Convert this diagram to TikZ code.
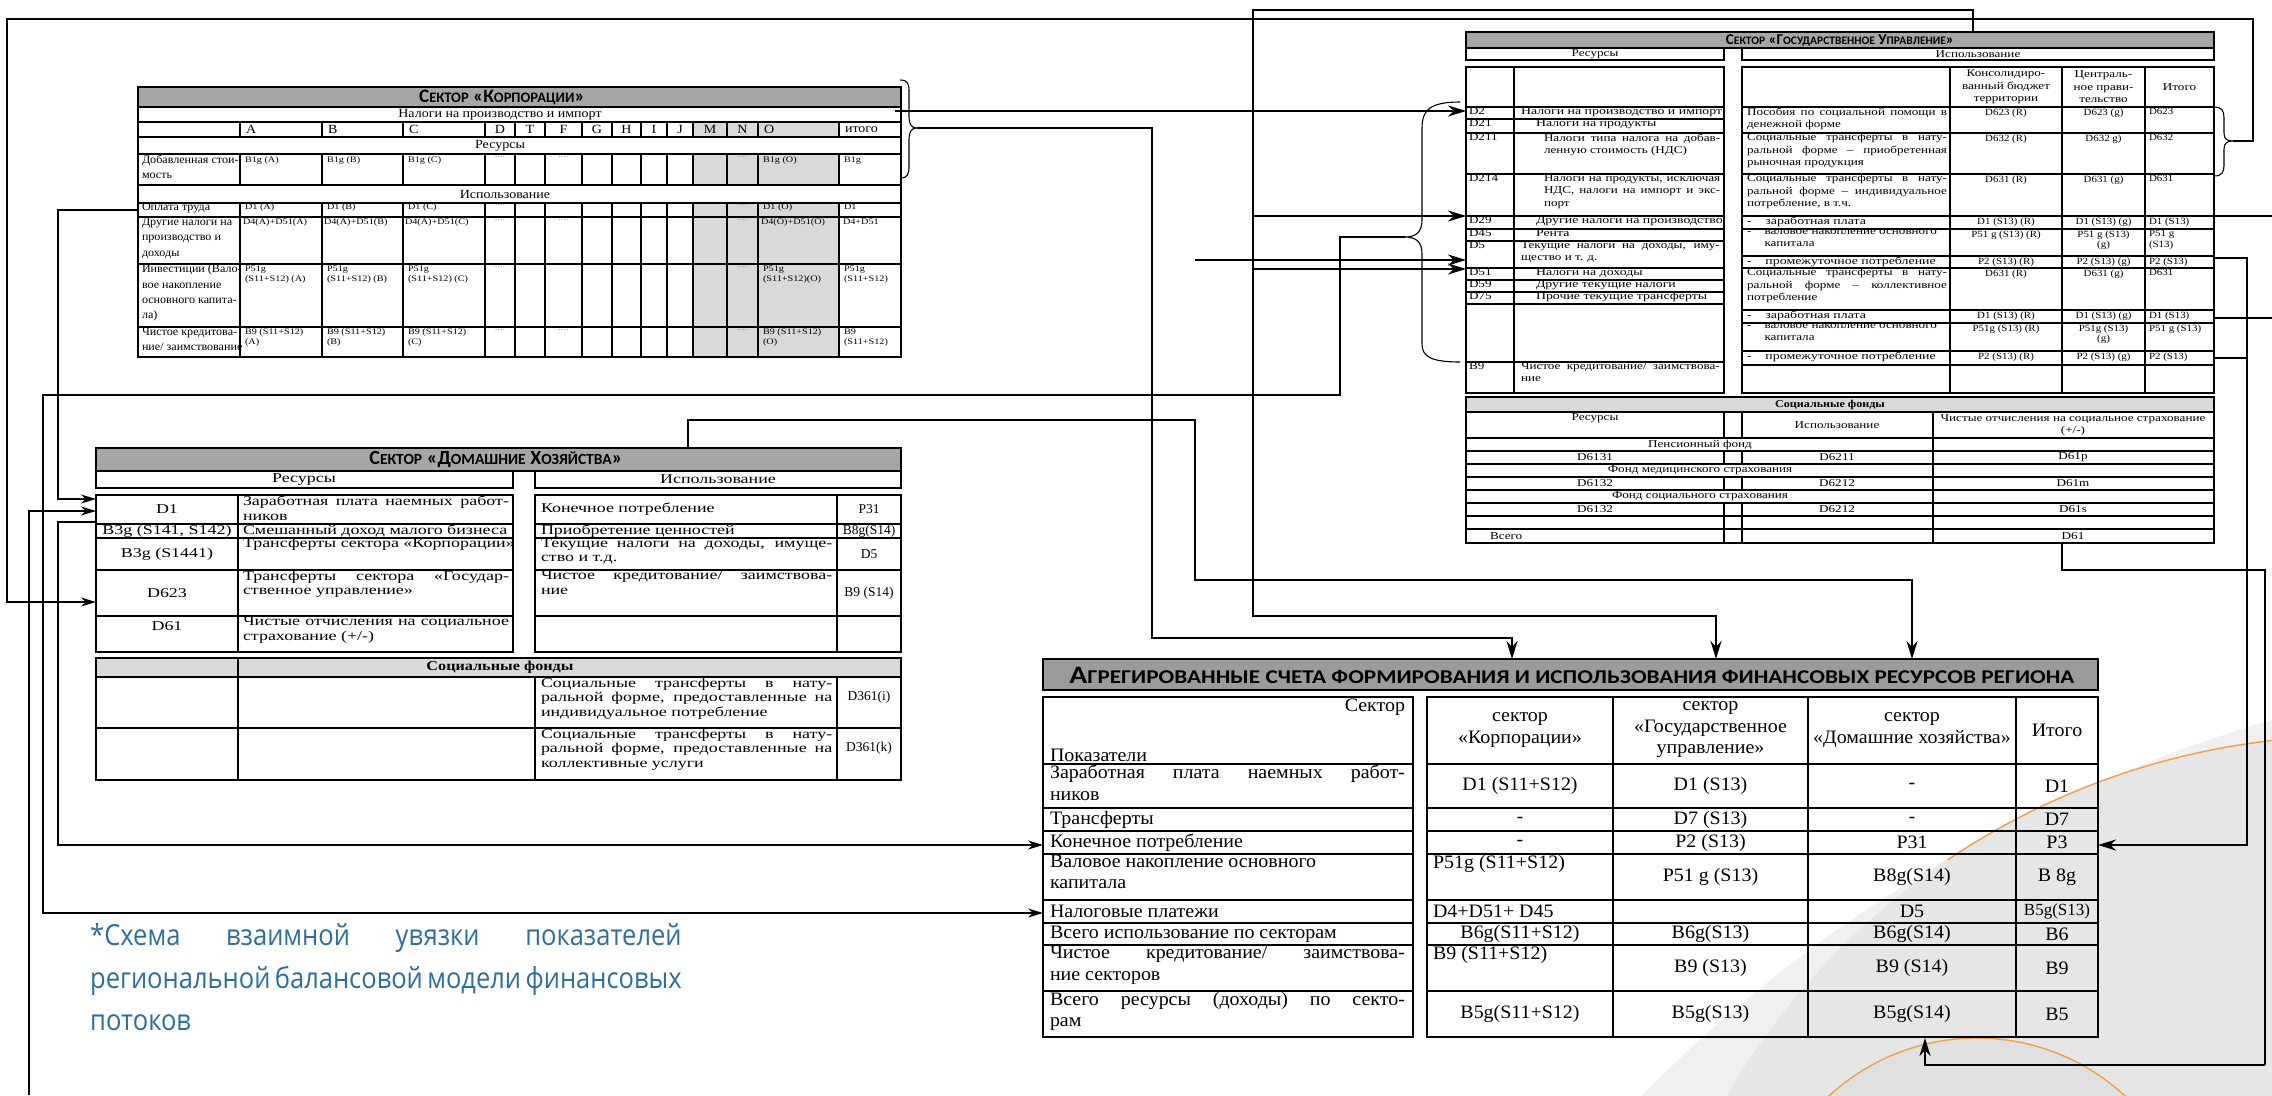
\documentclass[tikz,border=0pt]{standalone}
\usepackage{fontspec}
\setmainfont{Liberation Serif}
\newfontfamily\hfont{Carlito}
\newfontfamily\capfont{Open Sans}
\usetikzlibrary{arrows.meta}
\definecolor{hdr}{RGB}{166,166,166}
\definecolor{lgr}{RGB}{217,217,217}
\definecolor{agh}{RGB}{155,155,155}
\definecolor{capblue}{RGB}{45,110,160}
\definecolor{bgA}{RGB}{240,240,240}
\definecolor{bgB}{RGB}{230,230,230}
\definecolor{bgC}{RGB}{224,224,224}
\definecolor{orng}{RGB}{240,160,70}
\definecolor{dotc}{RGB}{140,140,140}
\newcounter{nn}
\newcommand\T[4][]{\stepcounter{nn}\node[cell,#1] (t\arabic{nn}) at (#2,#3) {#4};}
\newcommand\J[2]{\makebox[#1pt][s]{#2}}
\newcommand\SCx[2]{#1{\fontsize{\scs}{\scs}\selectfont #2}}
\newcommand\dd{\textcolor{dotc}{....}}
\tikzset{
  cell/.style={inner sep=0pt,outer sep=0pt,anchor=north west,align=left},
  ce/.style={anchor=center,align=center},
  cn/.style={anchor=north,align=center},
  cw/.style={anchor=west},
  tl/.style={line width=1.3pt},
  tla/.style={line width=1.8pt},
  fC/.style={font=\fontsize{11.5}{15.3}\selectfont,xscale=1.05},
  fCl/.style={font=\fontsize{12.5}{14}\selectfont,xscale=1.12},
  fCs/.style={font=\fontsize{8.5}{9.5}\selectfont,xscale=1.2},
  fG/.style={font=\fontsize{10.5}{12.5}\selectfont,xscale=1.25},
  fGw/.style={font=\fontsize{10.5}{12.5}\selectfont,xscale=1.32},
  fGs/.style={font=\fontsize{9.5}{10.5}\selectfont,xscale=1.15},
  fH/.style={font=\fontsize{13.5}{14.5}\selectfont,xscale=1.33},
  fHc/.style={font=\fontsize{13.5}{14.5}\selectfont},
  fA/.style={font=\fontsize{19}{21.5}\selectfont,xscale=1.05},
  fAs/.style={font=\fontsize{17}{19}\selectfont},
  thk/.style={line width=2.6pt},
  thn/.style={line width=1.2pt},
  arT/.style={-{Stealth[length=18pt,width=11pt]}},
  arN/.style={-{Stealth[length=15pt,width=9pt]}},
  brc/.style={line width=1.1pt},
  capt/.style={inner sep=0pt,anchor=base west,text=capblue,font=\capfont\fontsize{29}{32}\selectfont,xscale=0.88},
}
\begin{document}
\begin{tikzpicture}[x=1pt,y=-1pt]
\useasboundingbox (0,0) rectangle (2272,1095);
\fill[white] (0,0) rectangle (2272,1095);
% ---------- background decoration
\begin{scope}
\clip (0,0) rectangle (2272,1095);
\fill[bgA] (2681,2124) circle[radius=1462];
\fill[bgB] (2353,1461) circle[radius=725];
\fill[bgC] (1977,1256) circle[radius=218];
\draw[orng,line width=1.4pt] (1977,1256) ++(222:218) arc[start angle=222,end angle=318,radius=218];
\draw[orng,line width=1.4pt] (2353,1461) ++(236:725) arc[start angle=236,end angle=266,radius=725];
\end{scope}

% ================= CORPORATIONS
\fill[hdr] (138,87) rectangle (901,107);
\fill[lgr] (693,122) rectangle (839,137);
\fill[lgr] (693,154) rectangle (839,185);
\fill[lgr] (693,203) rectangle (839,357);
\draw[tl] (138,87) rectangle (901,357);
\foreach \y in {107,122,137,154,185,203,217,264,327} \draw[tl] (138,\y) -- (901,\y);
\foreach \x in {240,322,403,485,515,545,582,612,641,667,693,727,758,839} {
  \draw[tl] (\x,122) -- (\x,137);
  \draw[tl] (\x,154) -- (\x,185);
  \draw[tl] (\x,203) -- (\x,357);
}
\node[inner sep=0pt] (corpH) at (502,97.5) {\hfont\bfseries\def\scs{14.5}\fontsize{19}{20}\selectfont \SCx{С}{ЕКТОР} «\SCx{К}{ОРПОРАЦИИ}»};
\T[fCl,ce]{500}{114.5}{Налоги на производство и импорт}
\T[fCl,cw]{246}{129.5}{A}
\T[fCl,cw]{328}{129.5}{B}
\T[fCl,cw]{409}{129.5}{C}
\T[fCl,ce]{500}{129.5}{D}
\T[fCl,ce]{530}{129.5}{T}
\T[fCl,ce]{563.5}{129.5}{F}
\T[fCl,ce]{597}{129.5}{G}
\T[fCl,ce]{626.5}{129.5}{H}
\T[fCl,ce]{654}{129.5}{I}
\T[fCl,ce]{680}{129.5}{J}
\T[fCl,ce]{710}{129.5}{M}
\T[fCl,ce]{742.5}{129.5}{N}
\T[fCl,cw]{764}{129.5}{O}
\T[fCl,cw]{845}{130}{итого}
\T[fCl,ce]{500}{145.5}{Ресурсы}
\T[fCl,ce]{505}{194}{Использование}
\T[fC]{142}{155}{Добавленная стои-\\мость}
\T[fC]{142}{203}{Оплата труда}
\T[fC]{142}{218}{Другие налоги на\\производство и\\доходы}
\T[fC]{142}{265}{Инвестиции (Вало-\\вое накопление\\основного капита-\\ла)}
\T[fC]{142}{328}{Чистое кредитова-\\ние/ заимствование}
% data
\T[fCs]{245}{157}{B1g (A)}
\T[fCs]{327}{157}{B1g (B)}
\T[fCs]{408}{157}{B1g (C)}
\T[fCs,cn]{500}{157}{\dd}
\T[fCs,cn]{563.5}{157}{\dd}
\T[fCs,cn]{742.5}{157}{\dd}
\T[fCs]{763}{157}{B1g (O)}
\T[fCs]{844}{157}{B1g}
\T[fCs]{245}{204}{D1 (A)}
\T[fCs]{327}{204}{D1 (B)}
\T[fCs]{408}{204}{D1 (C)}
\T[fCs,cn]{500}{205}{\dd}
\T[fCs,cn]{742.5}{205}{\dd}
\T[fCs]{763}{204}{D1 (O)}
\T[fCs]{844}{204}{D1}
\T[fCs]{243}{219}{D4(A)+D51(A)}
\T[fCs]{324}{219}{D4(A)+D51(B)}
\T[fCs]{405}{219}{D4(A)+D51(C)}
\T[fCs,cn]{500}{220}{\dd}
\T[fCs,cn]{563.5}{220}{\dd}
\T[fCs,cn]{742.5}{220}{\dd}
\T[fCs]{761}{219}{D4(O)+D51(O)}
\T[fCs]{843}{219}{D4+D51}
\T[fCs]{245}{266}{P51g\\(S11+S12) (A)}
\T[fCs]{327}{266}{P51g\\(S11+S12) (B)}
\T[fCs]{408}{266}{P51g\\(S11+S12) (C)}
\T[fCs,cn]{500}{267}{\dd}
\T[fCs,cn]{742.5}{267}{\dd}
\T[fCs]{763}{266}{P51g\\(S11+S12)(O)}
\T[fCs]{844}{266}{P51g\\(S11+S12)}
\T[fCs]{245}{329}{B9 (S11+S12)\\(A)}
\T[fCs]{327}{329}{B9 (S11+S12)\\(B)}
\T[fCs]{408}{329}{B9 (S11+S12)\\(C)}
\T[fCs,cn]{500}{330}{\dd}
\T[fCs,cn]{563.5}{330}{\dd}
\T[fCs,cn]{742.5}{330}{\dd}
\T[fCs]{763}{329}{B9 (S11+S12)\\(O)}
\T[fCs]{844}{329}{B9\\(S11+S12)}
% brace right of corporations
\draw[brc] (900,80) .. controls (908,80) and (909,84) .. (909,92) -- (909,116) .. controls (909,124) and (911,128) .. (917,128) .. controls (911,128) and (909,132) .. (909,140) -- (909,166) .. controls (909,174) and (908,178) .. (900,178);

% ================= GOVERNMENT
\fill[hdr] (1466,32) rectangle (2214,48);
\draw[tl] (1466,32) rectangle (2214,48);
\node[inner sep=0pt] (govH) at (1840,40.5) {\hfont\bfseries\def\scs{11.5}\fontsize{15}{16}\selectfont \SCx{С}{ЕКТОР} «\SCx{Г}{ОСУДАРСТВЕННОЕ} \SCx{У}{ПРАВЛЕНИЕ}»};
\draw[tl] (1466,48) rectangle (1724,60);
\draw[tl] (1742,48) rectangle (2214,60);
\T[fG,ce]{1595}{54}{Ресурсы}
\T[fG,ce]{1978}{54}{Использование}
\draw[tl] (1466,67) rectangle (1724,393);
\draw[tl] (1514,67) -- (1514,393);
\foreach \y in {107,119,133,174,216,229,241,268,280,292,304,362} \draw[tl] (1466,\y) -- (1724,\y);
\draw[tl] (1742,67) rectangle (2214,393);
\foreach \y in {107,133,174,216,229,256,268,310,323,351,365} \draw[tl] (1742,\y) -- (2214,\y);
\foreach \x in {1950,2062,2145} \draw[tl] (\x,67) -- (\x,393);
% left codes and texts
\T[fG]{1469}{107.5}{D2}   \T[fGw]{1521}{107.5}{Налоги на производство и импорт}
\T[fG]{1469}{119.5}{D21}  \T[fGw]{1536}{119.5}{Налоги на продукты}
\T[fG]{1469}{133.5}{D211} \T[fG]{1544}{133.5}{\J{141}{Налоги типа налога на добав-}\\ленную стоимость (НДС)}
\T[fG]{1469}{174.5}{D214} \T[fG]{1544}{174.5}{\J{141}{Налоги на продукты, исключая}\\\J{141}{НДС, налоги на импорт и экс-}\\порт}
\T[fG]{1469}{216.5}{D29}  \T[fGw]{1536}{216.5}{Другие налоги на производство}
\T[fG]{1469}{229.5}{D45}  \T[fGw]{1536}{229.5}{Рента}
\T[fG]{1469}{241.5}{D5}   \T[fG]{1521}{241.5}{\J{159}{Текущие налоги на доходы, иму-}\\щество и т. д.}
\T[fG]{1469}{268.5}{D51}  \T[fGw]{1536}{268.5}{Налоги на доходы}
\T[fG]{1469}{280.5}{D59}  \T[fGw]{1536}{280.5}{Другие текущие налоги}
\T[fG]{1469}{292.5}{D75}  \T[fGw]{1536}{292.5}{Прочие текущие трансферты}
\T[fG]{1469}{362.5}{B9}   \T[fG]{1521}{362.5}{\J{159}{Чистое кредитование/ заимствова-}\\ние}
% right header
\T[fG,ce]{2006}{87}{Консолидиро-\\ванный бюджет\\территории}
\T[fG,ce]{2103.5}{87}{Централь-\\ное прави-\\тельство}
\T[fG,ce]{2179.5}{87}{Итого}
% right labels
\T[fG]{1747}{107.5}{\J{160}{Пособия по социальной помощи в}\\денежной форме}
\T[fG]{1747}{133.5}{\J{160}{Социальные трансферты в нату-}\\\J{160}{ральной форме – приобретенная}\\рыночная продукция}
\T[fG]{1747}{174.5}{\J{160}{Социальные трансферты в нату-}\\\J{160}{ральной форме – индивидуальное}\\потребление, в т.ч.}
\T[fGw]{1747}{216.5}{-\quad заработная плата}
\T[fG]{1747}{229.5}{-\quad валовое накопление основного\\\phantom{-\quad }капитала}
\T[fGw]{1747}{256.5}{-\quad промежуточное потребление}
\T[fG]{1747}{268.5}{\J{160}{Социальные трансферты в нату-}\\\J{160}{ральной форме – коллективное}\\потребление}
\T[fGw]{1747}{310.5}{-\quad заработная плата}
\T[fG]{1747}{323.5}{-\quad валовое накопление основного\\\phantom{-\quad }капитала}
\T[fGw]{1747}{351.5}{-\quad промежуточное потребление}
% right values
\T[fGs,cn]{2006}{108.5}{D623 (R)}      \T[fGs,cn]{2103.5}{108.5}{D623 (g)}      \T[fGs]{2149}{108.5}{D623}
\T[fGs,cn]{2006}{134.5}{D632 (R)}      \T[fGs,cn]{2103.5}{134.5}{D632 g)}       \T[fGs]{2149}{134.5}{D632}
\T[fGs,cn]{2006}{175.5}{D631 (R)}      \T[fGs,cn]{2103.5}{175.5}{D631 (g)}      \T[fGs]{2149}{175.5}{D631}
\T[fGs,cn]{2006}{217.5}{D1 (S13) (R)}  \T[fGs,cn]{2103.5}{217.5}{D1 (S13) (g)}  \T[fGs]{2149}{217.5}{D1 (S13)}
\T[fGs,cn]{2006}{230.5}{P51 g (S13) (R)} \T[fGs,cn]{2103.5}{230.5}{P51 g (S13)\\(g)} \T[fGs]{2149}{230.5}{P51 g\\(S13)}
\T[fGs,cn]{2006}{257.5}{P2 (S13) (R)}  \T[fGs,cn]{2103.5}{257.5}{P2 (S13) (g)}  \T[fGs]{2149}{257.5}{P2 (S13)}
\T[fGs,cn]{2006}{269.5}{D631 (R)}      \T[fGs,cn]{2103.5}{269.5}{D631 (g)}      \T[fGs]{2149}{269.5}{D631}
\T[fGs,cn]{2006}{311.5}{D1 (S13) (R)}  \T[fGs,cn]{2103.5}{311.5}{D1 (S13) (g)}  \T[fGs]{2149}{311.5}{D1 (S13)}
\T[fGs,cn]{2006}{324.5}{P51g (S13) (R)} \T[fGs,cn]{2103.5}{324.5}{P51g (S13)\\(g)} \T[fGs]{2149}{324.5}{P51 g (S13)}
\T[fGs,cn]{2006}{352.5}{P2 (S13) (R)}  \T[fGs,cn]{2103.5}{352.5}{P2 (S13) (g)}  \T[fGs]{2149}{352.5}{P2 (S13)}
% braces of government
\draw[brc] (2214,107) .. controls (2222,107) and (2224,111) .. (2224,118) -- (2224,133) .. controls (2224,139) and (2227,141) .. (2233,141) .. controls (2227,141) and (2224,143) .. (2224,149) -- (2224,165) .. controls (2224,172) and (2222,176) .. (2214,176);
\draw[brc] (1460,102) .. controls (1430,102) and (1422,110) .. (1422,128) -- (1422,220) .. controls (1422,232) and (1416,237) .. (1405,237) .. controls (1416,237) and (1422,242) .. (1422,254) -- (1422,344) .. controls (1422,356) and (1430,362) .. (1460,362);
% social funds (government)
\fill[lgr] (1466,397) rectangle (2214,412);
\draw[tl] (1466,397) rectangle (2214,543);
\foreach \y in {412,438,451,464,477,490,503,516,529} \draw[tl] (1466,\y) -- (2214,\y);
\draw[tl] (1933,412) -- (1933,543);
\foreach \x in {1724,1742} {\draw[tl] (\x,412) -- (\x,438); \draw[tl] (\x,451) -- (\x,464); \draw[tl] (\x,477) -- (\x,490); \draw[tl] (\x,503) -- (\x,543);}
\T[ce,font=\bfseries\fontsize{10.5}{12}\selectfont,xscale=1.15]{1830}{404.5}{Социальные фонды}
\T[fG,cn]{1595}{414}{Ресурсы}
\T[fG,ce]{1837}{425}{Использование}
\T[fG,ce]{2073}{425}{Чистые отчисления на социальное страхование\\(+/-)}
\T[fG,ce]{1700}{444.5}{Пенсионный фонд}
\T[fG,ce]{1595}{457.5}{D6131} \T[fG,ce]{1837}{457.5}{D6211} \T[fG,ce]{2073}{457.5}{D61p}
\T[fG,ce]{1700}{470.5}{Фонд медицинского страхования}
\T[fG,ce]{1595}{483.5}{D6132} \T[fG,ce]{1837}{483.5}{D6212} \T[fG,ce]{2073}{483.5}{D61m}
\T[fG,ce]{1700}{496.5}{Фонд социального страхования}
\T[fG,ce]{1595}{509.5}{D6132} \T[fG,ce]{1837}{509.5}{D6212} \T[fG,ce]{2073}{509.5}{D61s}
\T[fG,cw]{1490}{536}{Всего} \T[fG,ce]{2073}{536}{D61}

% ================= HOUSEHOLDS
\fill[hdr] (96,448) rectangle (901,471);
\draw[tl] (96,448) rectangle (901,471);
\node[inner sep=0pt] (hhH) at (496,459.5) {\hfont\bfseries\def\scs{15.5}\fontsize{20}{21}\selectfont \SCx{С}{ЕКТОР} «\SCx{Д}{ОМАШНИЕ} \SCx{Х}{ОЗЯЙСТВА}»};
\draw[tl] (96,471) rectangle (513,488);
\draw[tl] (535,471) rectangle (901,488);
\T[fH,ce]{304}{479.5}{Ресурсы}
\T[fH,ce]{718}{479.5}{Использование}
\draw[tl] (96,495) rectangle (513,652);
\draw[tl] (238,495) -- (238,652);
\draw[tl] (535,495) rectangle (901,652);
\draw[tl] (837,495) -- (837,652);
\foreach \y in {524,538,570,616} {\draw[tl] (96,\y) -- (513,\y); \draw[tl] (535,\y) -- (901,\y);}
\T[fH,ce]{167}{509.5}{D1}
\T[fH,ce]{167}{531}{B3g (S141, S142)}
\T[fH,ce]{167}{554}{B3g (S1441)}
\T[fH,ce]{167}{593}{D623}
\T[fH,ce]{167}{626}{D61}
\T[fH]{243}{496}{\J{200}{Заработная плата наемных работ-}\\ников}
\T[fH]{243}{524.5}{Смешанный доход малого бизнеса}
\T[fH]{243}{538.5}{Трансферты сектора «Корпорации»}
\T[fH]{243}{571}{\J{200}{Трансферты сектора «Государ-}\\ственное управление»}
\T[fH]{243}{617}{\J{200}{Чистые отчисления на социальное}\\страхование (+/-)}
\T[fH,cw]{541}{509.5}{Конечное потребление}
\T[fH]{541}{524.5}{Приобретение ценностей}
\T[fH]{541}{538.5}{\J{219}{Текущие налоги на доходы, имуще-}\\ство и т.д.}
\T[fH]{541}{571}{\J{219}{Чистое кредитование/ заимствова-}\\ние}
\T[fHc,ce]{869}{509.5}{P31}
\T[fHc,ce]{869}{531}{B8g(S14)}
\T[fHc,ce]{869}{554}{D5}
\T[fHc,ce]{869}{593}{B9 (S14)}
% social funds (households)
\fill[lgr] (96,658) rectangle (901,677);
\draw[tl] (96,658) rectangle (901,780);
\draw[tl] (96,677) -- (901,677);
\draw[tl] (96,728) -- (901,728);
\draw[tl] (238,658) -- (238,780);
\draw[tl] (535,677) -- (535,780);
\draw[tl] (837,677) -- (837,780);
\T[ce,font=\bfseries\fontsize{13.5}{15}\selectfont,xscale=1.2]{500}{667.5}{Социальные фонды}
\T[fH]{541}{678}{\J{219}{Социальные трансферты в нату-}\\\J{219}{ральной форме, предоставленные на}\\индивидуальное потребление}
\T[fH]{541}{729}{\J{219}{Социальные трансферты в нату-}\\\J{219}{ральной форме, предоставленные на}\\коллективные услуги}
\T[fHc,ce]{869}{697}{D361(i)}
\T[fHc,ce]{869}{748}{D361(k)}

% ================= AGGREGATED
\fill[agh] (1043,659) rectangle (2098,690);
\draw[tla] (1043,659) rectangle (2098,690);
\node[inner sep=0pt,xscale=1.19] (aggH) at (1572,675) {\hfont\bfseries\def\scs{19.5}\fontsize{25}{26}\selectfont\SCx{А}{ГРЕГИРОВАННЫЕ СЧЕТА ФОРМИРОВАНИЯ И ИСПОЛЬЗОВАНИЯ ФИНАНСОВЫХ РЕСУРСОВ РЕГИОНА}};
\draw[tla] (1043,697) rectangle (1413,1037);
\draw[tla] (1427,697) rectangle (2098,1037);
\foreach \y in {764,808,831,854,900,923,945,991} {\draw[tla] (1043,\y) -- (1413,\y); \draw[tla] (1427,\y) -- (2098,\y);}
\foreach \x in {1613,1808,2016} \draw[tla] (\x,697) -- (\x,1037);
\T[fA,anchor=north east]{1405}{699}{Сектор}
\T[fA,anchor=south west]{1050}{762}{Показатели}
\T[fA]{1050}{765}{\J{338}{Заработная плата наемных работ-}\\ников}
\T[fA,cw]{1050}{819.5}{Трансферты}
\T[fA,cw]{1050}{842.5}{Конечное потребление}
\T[fA]{1050}{855}{Валовое накопление основного\\капитала}
\T[fA,cw]{1050}{911.5}{Налоговые платежи}
\T[fA,cw]{1050}{934}{Всего использование по секторам}
\T[fA]{1050}{946}{\J{338}{Чистое кредитование/ заимствова-}\\ние секторов}
\T[fA]{1050}{992}{\J{338}{Всего ресурсы (доходы) по секто-}\\рам}
\T[fA,ce]{1520}{730}{сектор\\«Корпорации»}
\T[fA,ce]{1710.5}{730}{сектор\\«Государственное\\управление»}
\T[fA,ce]{1912}{730}{сектор\\«Домашние хозяйства»}
\T[fA,ce]{2057}{730}{Итого}
\T[fA,ce]{1520}{786}{D1 (S11+S12)} \T[fA,ce]{1710.5}{786}{D1 (S13)} \T[fA,ce]{1912}{786}{-} \T[fA,ce]{2057}{786}{D1}
\T[fA,ce]{1520}{819.5}{-} \T[fA,ce]{1710.5}{819.5}{D7 (S13)} \T[fA,ce]{1912}{819.5}{-} \T[fA,ce]{2057}{819.5}{D7}
\T[fA,ce]{1520}{842.5}{-} \T[fA,ce]{1710.5}{842.5}{P2 (S13)} \T[fA,ce]{1912}{842.5}{P31} \T[fA,ce]{2057}{842.5}{P3}
\T[fA]{1433}{855}{P51g (S11+S12)} \T[fA,ce]{1710.5}{877}{P51 g (S13)} \T[fA,ce]{1912}{877}{B8g(S14)} \T[fA,ce]{2057}{877}{B 8g}
\T[fA,cw]{1433}{911.5}{D4+D51+ D45} \T[fA,ce]{1912}{911.5}{D5} \T[fAs,ce]{2057}{911.5}{B5g(S13)}
\T[fA,ce]{1520}{934}{B6g(S11+S12)} \T[fA,ce]{1710.5}{934}{B6g(S13)} \T[fA,ce]{1912}{934}{B6g(S14)} \T[fA,ce]{2057}{934}{B6}
\T[fA]{1433}{946}{B9 (S11+S12)} \T[fA,ce]{1710.5}{968}{B9 (S13)} \T[fA,ce]{1912}{968}{B9 (S14)} \T[fA,ce]{2057}{968}{B9}
\T[fA,ce]{1520}{1014}{B5g(S11+S12)} \T[fA,ce]{1710.5}{1014}{B5g(S13)} \T[fA,ce]{1912}{1014}{B5g(S14)} \T[fA,ce]{2057}{1014}{B5}

% ================= CAPTION
\node[capt] (cap1) at (90,945) {\J{672}{*Схема взаимной увязки показателей}};
\node[capt] (cap2) at (90,988) {\J{672}{региональной балансовой модели финансовых}};
\node[capt] (cap3) at (90,1030) {потоков};

% ================= CONNECTORS
\coordinate (cTax) at (895,111);   \coordinate (gD2) at (1466,111);
\coordinate (cBr) at (917,128);    \coordinate (aC) at (1512,659);
\coordinate (gTop) at (1973,32);   \coordinate (aG) at (1716,659);
\coordinate (hTop) at (688,448);   \coordinate (aH) at (1912,659);
\coordinate (gD29) at (1466,216);  \coordinate (gD5) at (1466,260); \coordinate (gD51) at (1466,269);
\coordinate (gBrL) at (1405,237);  \coordinate (aTax) at (1043,913);
\coordinate (gBrR) at (2233,141);  \coordinate (hD623) at (96,602);
\coordinate (cWage) at (138,210);  \coordinate (hD1a) at (96,499);
\coordinate (bot) at (29,1095);    \coordinate (hD1b) at (96,511);
\coordinate (hD1c) at (96,522);    \coordinate (aCons) at (1043,845);
\coordinate (gW1) at (2214,216);   \coordinate (gW2) at (2214,318);
\coordinate (gP1) at (2214,258);   \coordinate (gP2) at (2214,358);
\coordinate (aP3) at (2098,845);
\coordinate (gD61) at (2062,543);  \coordinate (aBot) at (1925,1038);

\draw[thk,arT] (cTax) -- (gD2);
\draw[thk,arT] (cBr) -- (1152,128) -- (1152,638) -- (1512,638) -- (aC);
\draw[thk,arT] (gTop) -- (1973,10) -- (1253,10) -- (1253,616) -- (1716,616) -- (aG);
\draw[thk,arT] (hTop) -- (688,420) -- (1195,420) -- (1195,580) -- (1912,580) -- (aH);
\draw[thk,arT] (1253,216) -- (gD29);
\draw[thk,arT] (1195,260) -- (gD5);
\draw[thk,arT] (1253,269) -- (gD51);
\draw[thn,arN] (gBrL) -- (1340,237) -- (1340,395) -- (43,395) -- (43,913) -- (aTax);
\draw[thn,arN] (gBrR) -- (2253,141) -- (2253,19) -- (7,19) -- (7,602) -- (hD623);
\draw[thn,arN] (cWage) -- (58,210) -- (58,499) -- (hD1a);
\draw[thn,arN] (bot) -- (29,511) -- (hD1b);
\draw[thn,arN] (hD1c) -- (58,522) -- (58,845) -- (aCons);
\draw[thn] (gW1) -- (2272,216);
\draw[thn] (gW2) -- (2272,318);
\draw[thk,arT] (gP1) -- (2247,258) -- (2247,845) -- (aP3);
\draw[thn] (gP2) -- (2247,358);
\draw[thn] (gD61) -- (2062,570) -- (2265,570) -- (2265,1065);
\draw[thk,arT] (2265,1065) -- (1925,1065) -- (aBot);
\end{tikzpicture}
\end{document}
